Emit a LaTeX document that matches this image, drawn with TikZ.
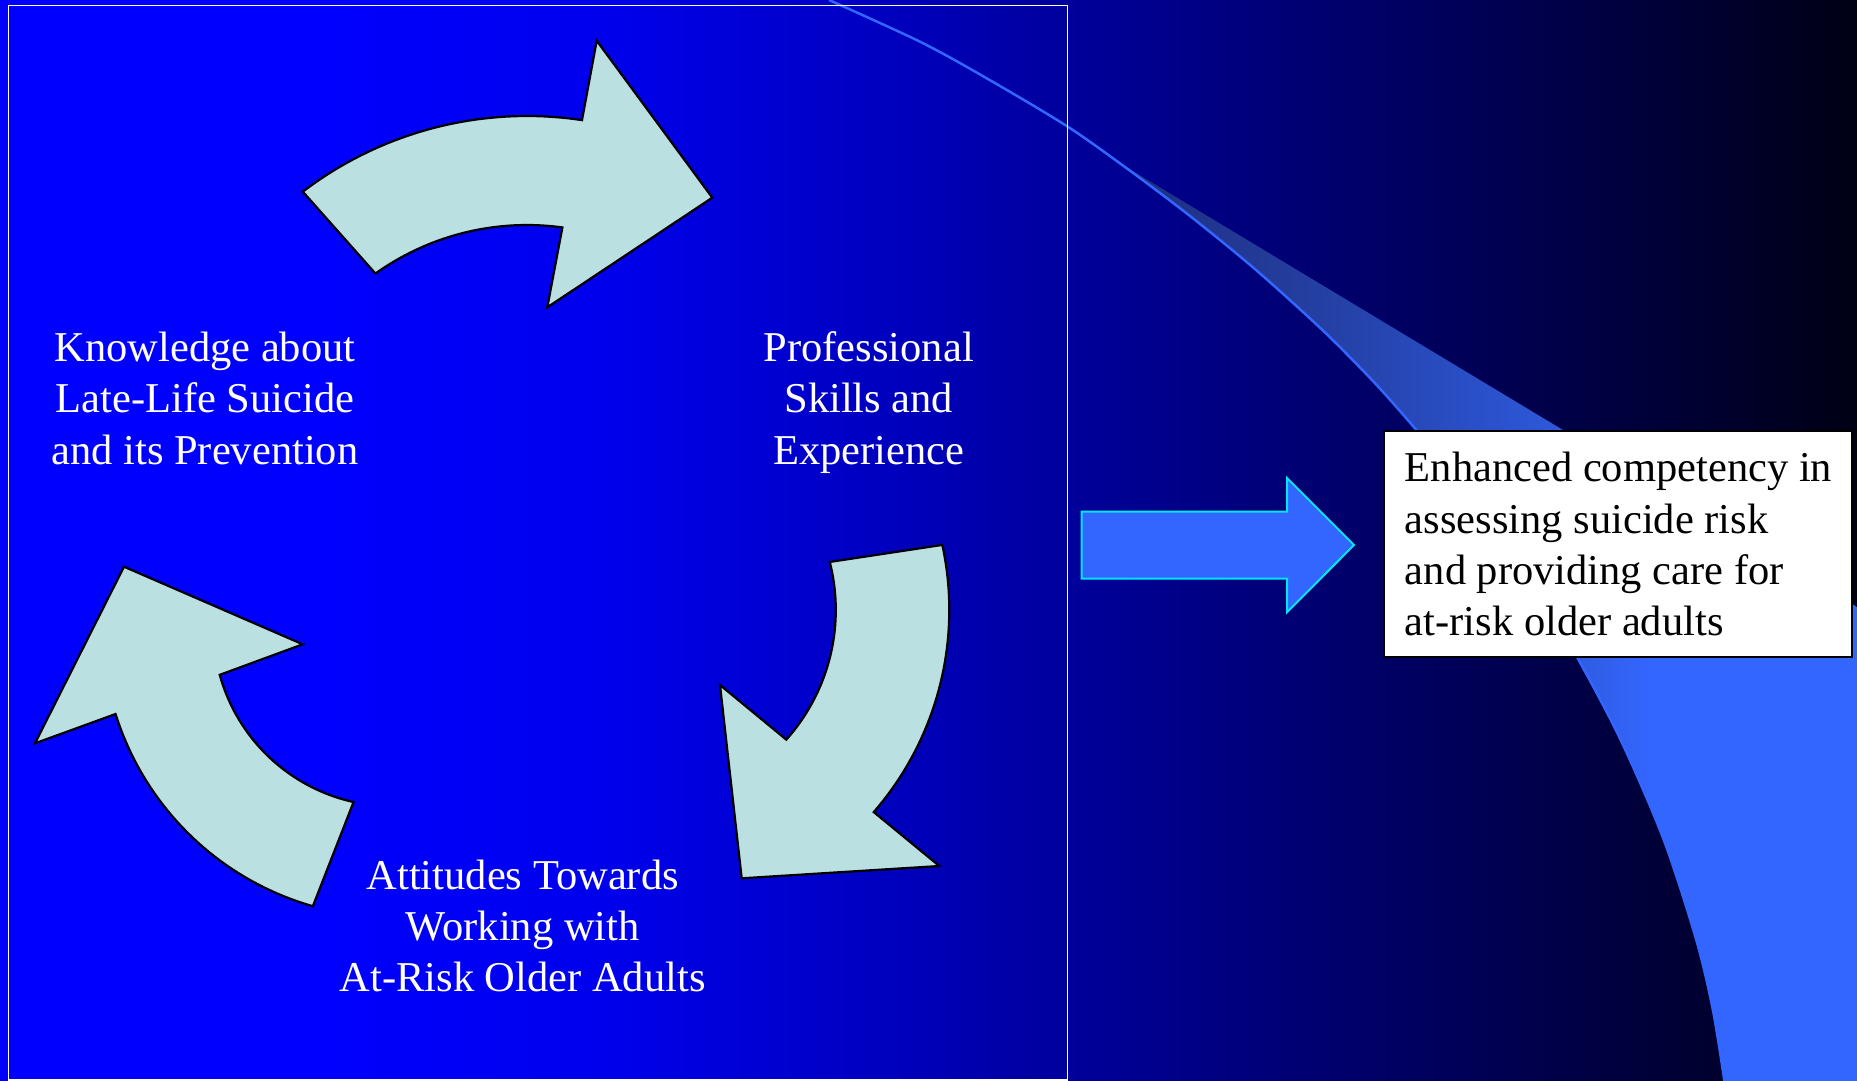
\documentclass[tikz,border=0pt]{standalone}
\usepackage{fontspec}
\setmainfont{Liberation Serif}
\pgfdeclarehorizontalshading{bgshade}{100bp}{rgb(0bp)=(0,0,1); rgb(25bp)=(0,0,1); rgb(33.1bp)=(0,0,1); rgb(41.2bp)=(0,0,0.93); rgb(49.2bp)=(0,0,0.74); rgb(53.7bp)=(0,0,0.61); rgb(60bp)=(0,0,0.45); rgb(63.3bp)=(0,0,0.37); rgb(67.5bp)=(0,0,0.27); rgb(70.9bp)=(0,0,0.19); rgb(75bp)=(0,0,0.08); rgb(100bp)=(0,0,0.08)}
\pgfdeclarehorizontalshading{crescshade}{100bp}{rgb(0bp)=(0.12,0.18,0.5); rgb(25bp)=(0.12,0.18,0.5); rgb(37.2bp)=(0.14,0.24,0.62); rgb(47.4bp)=(0.16,0.3,0.76); rgb(54.9bp)=(0.18,0.35,0.86); rgb(61bp)=(0.2,0.4,1); rgb(75bp)=(0.2,0.4,1); rgb(100bp)=(0.2,0.4,1)}
\definecolor{arrowfill}{RGB}{186,224,226}
\definecolor{swooshblue}{RGB}{51,102,255}
\definecolor{edgecyan}{RGB}{0,230,255}
\tikzset{
  cyclearrow/.style={fill=arrowfill, draw=black, line width=2.2pt, line join=miter},
  cyclabel/.style={text=white, align=center, inner sep=0pt, anchor=base, font=\fontsize{42.5}{51.3}\selectfont},
  blockarrow/.style={fill=swooshblue, draw=edgecyan, line width=2pt},
  outcomebox/.style={draw=black, fill=white, line width=2pt, minimum width=468pt, minimum height=226pt, inner xsep=20pt, inner ysep=0pt, align=left, text=black, font=\fontsize{42.5}{51.3}\selectfont},
}
\begin{document}
\begin{tikzpicture}[x=1pt,y=-1pt]
\useasboundingbox (0,0) rectangle (1857,1081);
\shade[shading=bgshade] (0,0) rectangle (1857,1081);
% swoosh
\shade[shading=crescshade] (1119.4,163) -- (1857,607) -- (1857,1081) -- (1724.4,1081) -- plot[smooth] coordinates {(1724.4,1081) (1712.9,1010) (1696.3,940) (1663.8,840) (1620.7,740) (1577,657) (1542.8,600) (1502.6,540) (1457.6,480) (1413.8,427) (1373.8,382) (1323.4,331) (1256,270) (1190,216) (1119.4,163)} -- cycle;
\draw[swooshblue, line width=2.5pt] plot[smooth] coordinates {(829,0) (920,41.7) (986.7,78.3) (1066.7,126) (1126.3,168) (1190,216) (1256,270) (1323.4,331) (1373.8,382) (1413.8,427) (1457.6,480) (1502.6,540) (1542.8,600) (1577,657) (1620.7,740) (1663.8,840) (1696.3,940) (1712.9,1010) (1724.4,1081)};
% frame
\draw[white, line width=1.6pt] (8.3,5.5) rectangle (1067.5,1080);
% top arrow
\draw[cyclearrow] plot[domain=-127.3:-81.45, samples=40] ({527+370*cos(\x)},{486+370*sin(\x)}) -- (596.7,40.7) -- (712.3,197.7) -- (547.3,307.3) -- plot[domain=-82.2:-125.5, samples=40] ({527+261*cos(\x)},{486+261*sin(\x)}) -- cycle;
% right arrow
\draw[cyclearrow] plot[domain=41:-12.2, samples=40] ({641.3+308*cos(\x)},{610+308*sin(\x)}) -- plot[domain=-14.3:41.8, samples=40] ({641.3+194.5*cos(\x)},{610+194.5*sin(\x)}) -- (720,685) -- (741.7,878.3) -- (939.3,866) -- cycle;
% left arrow
\draw[cyclearrow] plot[domain=162.6:105.9, samples=40] ({392.3+290*cos(\x)},{627.3+290*sin(\x)}) -- plot[domain=102.5:164.6, samples=40] ({392.3+179*cos(\x)},{627.3+179*sin(\x)}) -- (302.7,644.3) -- (124,566.7) -- (35,743.3) -- cycle;
% labels
\node[cyclabel] (knowledge) at (205,464.2) {Knowledge about\\Late-Life Suicide\\and its Prevention};
\node[cyclabel] (skills) at (868.8,464.2) {Professional\\Skills and\\Experience};
\node[cyclabel] (attitudes) at (522.7,991.6) {Attitudes Towards\\Working with\\At-Risk Older Adults};
% block arrow
\draw[blockarrow] (1081.5,511.5) -- (1287,511.5) -- (1287,478) -- (1354,545) -- (1287,612.3) -- (1287,578.5) -- (1081.5,578.5) -- cycle;
% outcome box
\node[outcomebox] (outcome) at (1618.45,544.3) {Enhanced competency in\\assessing suicide risk\\and providing care for\\at-risk older adults};
\end{tikzpicture}
\end{document}
